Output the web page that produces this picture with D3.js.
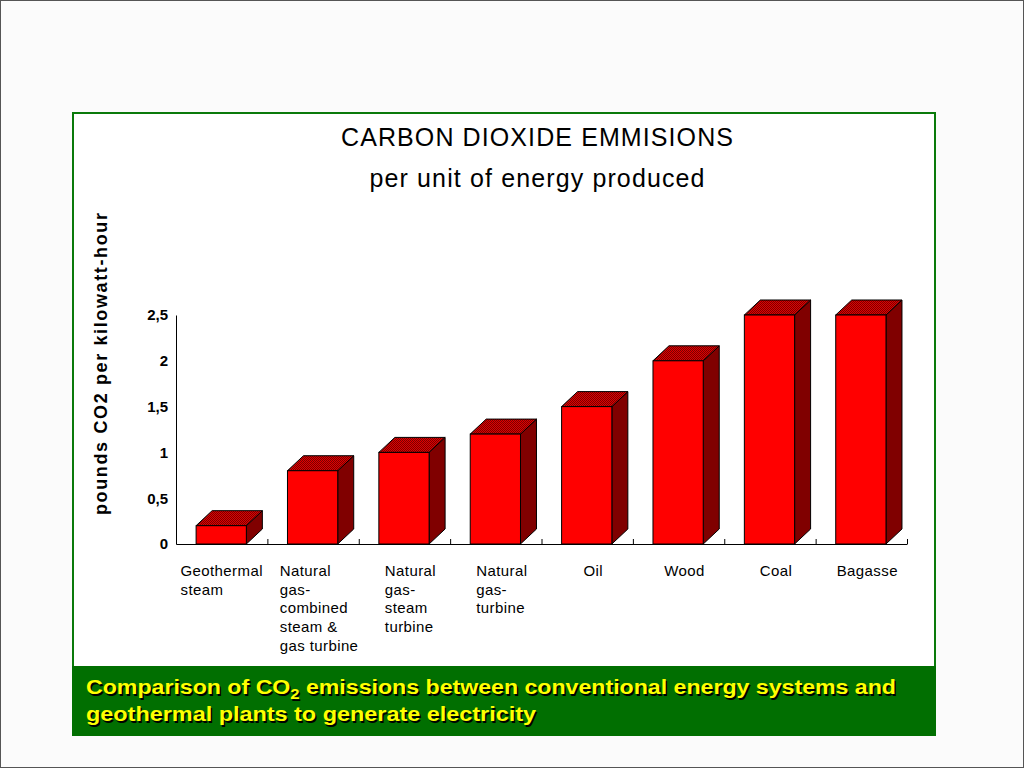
<!DOCTYPE html>
<html><head><meta charset="utf-8">
<script src="https://cdn.jsdelivr.net/npm/d3@7"></script>
<style>
html,body{margin:0;padding:0;background:#fbfbfb;}
svg{display:block;}
</style></head>
<body>
<script>
const categories = [
  ["Geothermal","steam"],
  ["Natural","gas-","combined","steam &","gas turbine"],
  ["Natural","gas-","steam","turbine"],
  ["Natural","gas-","turbine"],
  ["Oil"],
  ["Wood"],
  ["Coal"],
  ["Bagasse"]
];
const values = [0.2, 0.8, 1.0, 1.2, 1.5, 2.0, 2.5, 2.5];
const yTicks = [0, 0.5, 1, 1.5, 2, 2.5];
const titleLines = ["CARBON DIOXIDE EMMISIONS", "per unit of energy produced"];
const yLabel = "pounds CO2 per kilowatt-hour";

const W = 1024, H = 768;
const FONT = "Liberation Sans, Arial, sans-serif";
const svg = d3.select("body").append("svg").attr("width", W).attr("height", H);

// slide background & border
svg.append("rect").attr("x",0.5).attr("y",0.5).attr("width",W-1).attr("height",H-1)
  .attr("fill","#fbfbfb").attr("stroke","#555").attr("stroke-width",1);

// frame
svg.append("rect").attr("x",73).attr("y",113).attr("width",862).attr("height",621)
  .attr("fill","#fff").attr("stroke","#0a7a0a").attr("stroke-width",2);
svg.append("rect").attr("x",72).attr("y",666).attr("width",864).attr("height",70)
  .attr("fill","#016f01");

// pattern for top faces
const defs = svg.append("defs");
const pat = defs.append("pattern").attr("id","topPat").attr("width",2).attr("height",2)
  .attr("patternUnits","userSpaceOnUse");
pat.append("rect").attr("width",2).attr("height",2).attr("fill","#e00000");
pat.append("rect").attr("width",1).attr("height",1).attr("fill","#7a0000");
pat.append("rect").attr("x",1).attr("y",1).attr("width",1).attr("height",1).attr("fill","#7a0000");

// titles
svg.append("text").attr("x",537).attr("y",146).attr("text-anchor","middle")
  .attr("font-family",FONT).attr("font-size",25).attr("fill","#000")
  .attr("textLength",392).attr("lengthAdjust","spacing")
  .text(titleLines[0]);
svg.append("text").attr("x",537).attr("y",187).attr("text-anchor","middle")
  .attr("font-family",FONT).attr("font-size",25).attr("fill","#000")
  .attr("textLength",335).attr("lengthAdjust","spacing")
  .text(titleLines[1]);

// scales
const x = d3.scaleBand().domain(d3.range(categories.length)).range([176, 907]);
const y = d3.scaleLinear().domain([0, 2.5]).range([544, 315]);

// y label
svg.append("text").attr("transform","translate(107,364) rotate(-90)").attr("text-anchor","middle")
  .attr("font-family",FONT).attr("font-size",18).attr("font-weight","bold")
  .attr("textLength",302).attr("lengthAdjust","spacing")
  .text(yLabel);

// y axis
const yAxis = d3.axisLeft(y).tickValues(yTicks).tickSize(0).tickPadding(8)
  .tickFormat(d => String(d).replace(".", ","));
const gy = svg.append("g").attr("transform","translate(176,0)").call(yAxis);
gy.select(".domain").attr("stroke","#000");
gy.selectAll("text").attr("font-family",FONT)
  .attr("font-size",15).attr("font-weight","bold").attr("fill","#000");

// x axis with ticks at band boundaries
const xb = d3.scaleLinear().domain([0, categories.length]).range([176, 907]);
const xAxis = d3.axisBottom(xb).tickValues(d3.range(1, categories.length + 1))
  .tickSize(-5).tickSizeOuter(0).tickFormat("");
const gx = svg.append("g").attr("transform","translate(0,544)").call(xAxis);
gx.select(".domain").attr("stroke","#000");
gx.selectAll(".tick line").attr("stroke","#000");

// bars
const bw = x.bandwidth();
const off = bw * 0.22, fw = bw * 0.55, dx = 16, dy = 15;
const bars = svg.append("g").selectAll("g").data(values).join("g");
bars.each(function(v, i) {
  const g = d3.select(this);
  const x0 = x(i) + off, x1 = x0 + fw, yt = y(v), yb = y(0);
  g.append("path").attr("d", `M${x1},${yb}L${x1+dx},${yb-dy}L${x1+dx},${yt-dy}L${x1},${yt}Z`)
    .attr("fill","#800000").attr("stroke","#000").attr("stroke-width",1);
  g.append("path").attr("d", `M${x0},${yt}L${x0+dx},${yt-dy}L${x1+dx},${yt-dy}L${x1},${yt}Z`)
    .attr("fill","url(#topPat)").attr("stroke","#000").attr("stroke-width",1);
  g.append("rect").attr("x",x0).attr("y",yt).attr("width",fw).attr("height",yb-yt)
    .attr("fill","#ff0000").attr("stroke","#000").attr("stroke-width",1);
});

// category labels
const labels = svg.append("g").selectAll("text").data(categories).join("text")
  .attr("font-family",FONT).attr("font-size",15).attr("letter-spacing",0.4).attr("fill","#000");
labels.each(function(lines, i) {
  const t = d3.select(this);
  lines.forEach((l, k) => t.append("tspan").attr("dy", k === 0 ? 0 : 18.7).text(l));
  let maxW = 0;
  t.selectAll("tspan").each(function(){ maxW = Math.max(maxW, this.getComputedTextLength()); });
  const cx = x(i) + bw / 2;
  t.attr("y", 576);
  t.selectAll("tspan").attr("x", cx - maxW / 2 + (i > 0 ? 6 : 0));
});

// caption
function caption(yPos, parts, len) {
  [[1.5, "#000"], [0, "#ffff00"]].forEach(([o, c]) => {
    const t = svg.append("text").attr("x", 86 + o).attr("y", yPos + o)
      .attr("font-family",FONT).attr("font-size",21).attr("font-weight","bold")
      .attr("fill", c).attr("textLength", len).attr("lengthAdjust","spacingAndGlyphs");
    parts.forEach(p => {
      const s = t.append("tspan").text(p.t);
      if (p.sub) s.attr("font-size", 15).attr("dy", 5);
      if (p.after) s.attr("dy", -5);
    });
  });
}
caption(694, [{t:"Comparison of CO"},{t:"2",sub:true},{t:" emissions between conventional energy systems and",after:true}], 810);
caption(721, [{t:"geothermal plants to generate electricity"}], 450);
</script>
</body></html>
